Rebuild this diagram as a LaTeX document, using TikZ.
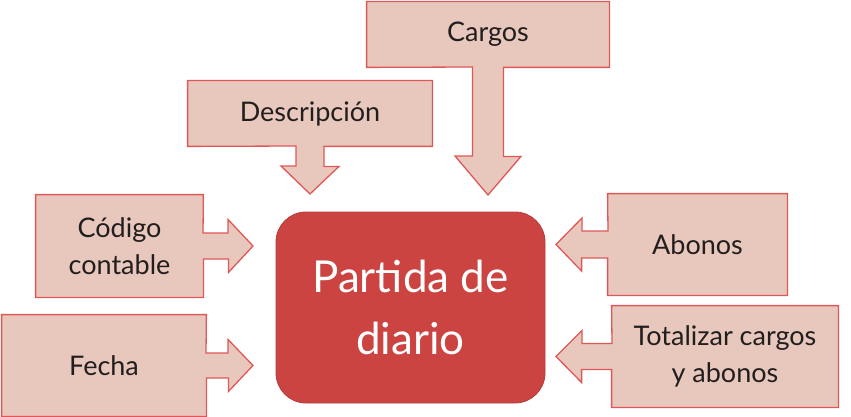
\documentclass[tikz,border=0pt]{standalone}
\usepackage{fontspec}
\setmainfont{Lato}
\usetikzlibrary{calc,backgrounds}

\definecolor{boxfill}{RGB}{232,200,189}
\definecolor{boxline}{RGB}{222,88,88}
\definecolor{mainfill}{RGB}{204,68,66}
\definecolor{mainline}{RGB}{180,60,58}
\definecolor{txt}{RGB}{34,30,30}

\begin{document}
\begin{tikzpicture}[x=1pt,y=-1pt,thick,
    box node/.style={inner sep=0pt,align=center,text=txt,font=\fontsize{27}{37}\selectfont},
    callbox/.style={draw=boxline,fill=boxfill,line width=1.3pt,line join=miter},
    main node/.style={rounded corners=30pt,draw=mainline,fill=mainfill,line width=0.8pt,text=white,align=center,font=\fontsize{44}{62}\selectfont}]

    \useasboundingbox (0,0) rectangle (851,417);

    % boxes
    \node[box node,minimum width=244pt,minimum height=65pt] (desc) at (310,113.5) {Descripción};
    \node[box node,minimum width=242pt,minimum height=65pt] (carg) at (488,34.5) {Cargos};
    \node[box node,minimum width=167pt,minimum height=102pt] (cod) at (119.5,246) {Código\\contable};
    \node[box node,minimum width=204pt,minimum height=101pt] (fech) at (104,365.5) {Fecha};
    \node[box node,minimum width=179pt,minimum height=101pt] (abon) at (697.5,244.5) {Abonos};
    \node[box node,minimum width=226pt,minimum height=101pt] (tot) at (725,356.5) {Totalizar cargos\\y abonos};

    \node[main node,minimum width=269pt,minimum height=191pt] (part) at (410.5,307.5) {Partida de\\diario};

    % arrow tips
    \coordinate (tdesc) at (310,194);
    \coordinate (tcarg) at (488,195);
    \coordinate (tcod) at (253,246);
    \coordinate (tfech) at (253,365.5);
    \coordinate (tabon) at (556,244.5);
    \coordinate (ttot) at (556,356.5);

    \begin{scope}[on background layer]
        \draw[callbox] (desc.south west) |- (desc.north east) |- ($(desc.south)+(14,0)$)
            -- ++(0,20) -- ++(15,0) -- (tdesc) -- ++(-29,-28) -- ++(15,0) -- ++(0,-20) -- cycle;
        \draw[callbox] (carg.south west) |- (carg.north east) |- ($(carg.south)+(15.5,0)$)
            -- ++(0,89) -- ++(17.5,0) -- (tcarg) -- ++(-33,-39) -- ++(17.5,0) -- ++(0,-89) -- cycle;
        \draw[callbox] (cod.north east) -| (cod.south west) -| ($(cod.east)+(0,13)$)
            -- ++(25,0) -- ++(0,13.5) -- (tcod) -- ++(-25,-26.5) -- ++(0,13.5) -- ++(-25,0) -- cycle;
        \draw[callbox] (fech.north east) -| (fech.south west) -| ($(fech.east)+(0,12.5)$)
            -- ++(22,0) -- ++(0,13.5) -- (tfech) -- ++(-25,-26) -- ++(0,13.5) -- ++(-22,0) -- cycle;
        \draw[callbox] (abon.north west) -| (abon.south east) -| ($(abon.west)+(0,13.5)$)
            -- ++(-26,0) -- ++(0,13) -- (tabon) -- ++(26,-26.5) -- ++(0,13) -- ++(26,0) -- cycle;
        \draw[callbox] (tot.north west) -| (tot.south east) -| ($(tot.west)+(0,13)$)
            -- ++(-30,0) -- ++(0,13) -- (ttot) -- ++(26,-26) -- ++(0,13) -- ++(30,0) -- cycle;
    \end{scope}
\end{tikzpicture}
\end{document}
